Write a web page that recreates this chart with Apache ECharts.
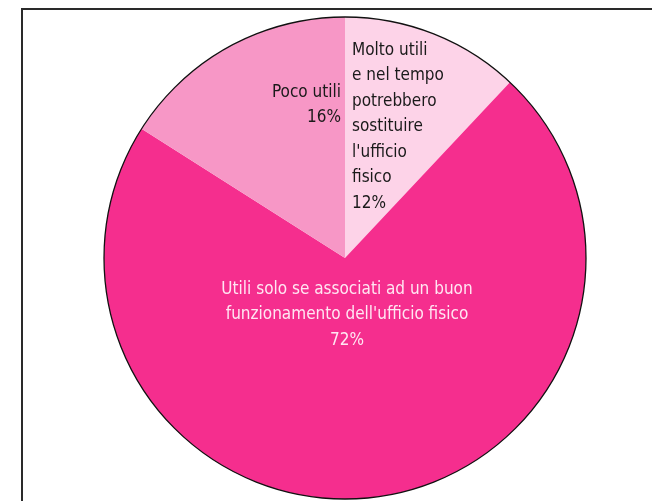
<!DOCTYPE html>
<html><head><meta charset="utf-8">
<script src="https://cdn.jsdelivr.net/npm/echarts@6/dist/echarts.min.js"></script>
<style>
html,body{margin:0;padding:0;background:#fff;}
#c{width:652px;height:501px;position:relative;}
#frame{position:absolute;left:21px;top:8px;width:640px;height:500px;border-left:2px solid #2a2a2a;border-top:2px solid #2a2a2a;pointer-events:none;}
</style></head>
<body>
<div id="c"></div>
<div id="frame"></div>
<script>
const categories = [
  "Molto utili\ne nel tempo\npotrebbero\nsostituire\nl'ufficio\nfisico",
  "Utili solo se associati ad un buon\nfunzionamento dell'ufficio fisico",
  "Poco utili"
];
const values = [12, 72, 16];
const colors = ["#FDD3E8", "#F52E8E", "#F797C6"];
const labelColors = ["#1a1a1a", "#FFE6F2", "#1a1a1a"];
const labelAnchors = [
  {x: 352, y: 127, align: 'left'},
  {x: 347, y: 315, align: 'center'},
  {x: 341, y: 105, align: 'right'}
];

const chart = echarts.init(document.getElementById('c'));
const font = "'DejaVu Sans Condensed', 'Liberation Sans Narrow', sans-serif";
chart.setOption({
  animation: false,
  series: [
    {
      type: 'pie',
      center: [345, 258],
      radius: 241,
      startAngle: 90,
      clockwise: true,
      silent: true,
      data: categories.map((n, i) => ({
        name: n, value: values[i],
        itemStyle: {color: colors[i]},
        label: {color: labelColors[i], align: labelAnchors[i].align}
      })),
      label: {
        show: true,
        position: 'inside',
        formatter: p => p.name + '\n' + p.value + '%',
        fontFamily: font,
        fontSize: 17,
        lineHeight: 25.5
      },
      labelLine: {show: false},
      labelLayout: p => {
        const a = labelAnchors[p.dataIndex];
        return {x: a.x, y: a.y, align: a.align, verticalAlign: 'middle'};
      }
    },
    {
      type: 'pie',
      center: [345, 258],
      radius: 241,
      silent: true,
      label: {show: false},
      labelLine: {show: false},
      data: [{value: 1, itemStyle: {color: 'rgba(0,0,0,0)', borderColor: '#111', borderWidth: 1.3}}]
    }
  ]
});
</script>
</body></html>
